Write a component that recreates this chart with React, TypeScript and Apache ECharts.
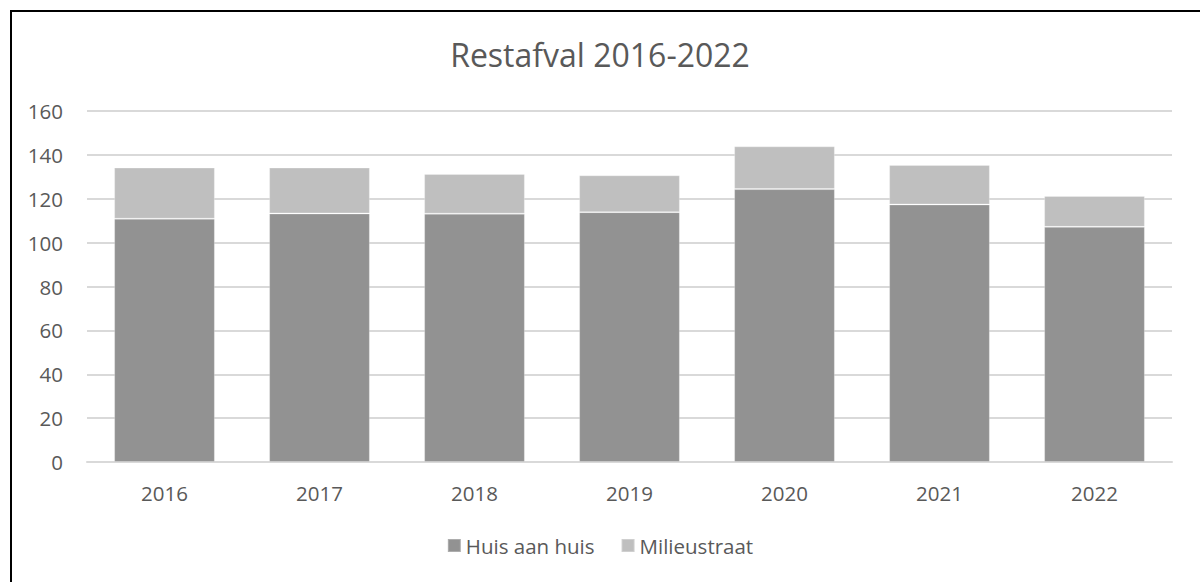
import React, { useEffect, useRef } from "react";
import * as echarts from "echarts";

const years = ["2016", "2017", "2018", "2019", "2020", "2021", "2022"];
const huisAanHuis = [110.9, 113.3, 113.2, 113.9, 124.4, 117.4, 107.2];
const milieustraat = [23.3, 20.9, 18.1, 16.8, 19.5, 18.0, 14.1];
const titleText = "Restafval 2016-2022";

const FONT = "'Open Sans', 'Noto Sans', sans-serif";
const TEXT = "#595959";

export default function App() {
  const ref = useRef<HTMLDivElement>(null);
  useEffect(() => {
    document.body.style.margin = "0";
    const chart = echarts.init(ref.current!, undefined, { renderer: "svg" });
    chart.setOption({
      animation: false,
      backgroundColor: "#ffffff",
      title: {
        text: titleText,
        left: "center",
        top: 33,
        textStyle: { fontFamily: FONT, fontSize: 32, fontWeight: "normal", color: TEXT },
      },
      legend: {
        bottom: 21,
        left: "center",
        itemWidth: 13,
        itemHeight: 13,
        itemGap: 26,
        icon: "rect",
        textStyle: { fontFamily: FONT, fontSize: 20.5, color: TEXT },
        data: ["Huis aan huis", "Milieustraat"],
      },
      grid: { left: 87, right: 28, top: 111, bottom: 120, containLabel: false },
      xAxis: {
        type: "category",
        data: years,
        axisTick: { show: false },
        axisLine: { lineStyle: { color: "#d9d9d9", width: 2 } },
        axisLabel: { fontFamily: FONT, fontSize: 20.5, color: TEXT, margin: 20 },
      },
      yAxis: {
        type: "value",
        min: 0,
        max: 160,
        interval: 20,
        axisLine: { show: false },
        axisTick: { show: false },
        splitLine: { lineStyle: { color: "#d9d9d9", width: 2 } },
        axisLabel: { fontFamily: FONT, fontSize: 20.5, color: TEXT, margin: 24 },
      },
      series: [
        {
          name: "Huis aan huis",
          type: "bar",
          stack: "total",
          data: huisAanHuis,
          barWidth: "65%",
          itemStyle: { color: "#929292", borderColor: "rgba(255,255,255,0.25)", borderWidth: 1 },
        },
        {
          name: "Milieustraat",
          type: "bar",
          stack: "total",
          data: milieustraat,
          barWidth: "65%",
          itemStyle: { color: "#bfbfbf", borderColor: "rgba(255,255,255,0.25)", borderWidth: 1 },
        },
      ],
      graphic: [
        { type: "line", shape: { x1: 10, y1: 11, x2: 1200, y2: 11 }, style: { stroke: "#000", lineWidth: 2 } },
        { type: "line", shape: { x1: 11, y1: 10, x2: 11, y2: 582 }, style: { stroke: "#000", lineWidth: 2 } },
      ],
    });
    return () => chart.dispose();
  }, []);
  return <div ref={ref} style={{ width: 1200, height: 582 }} />;
}
